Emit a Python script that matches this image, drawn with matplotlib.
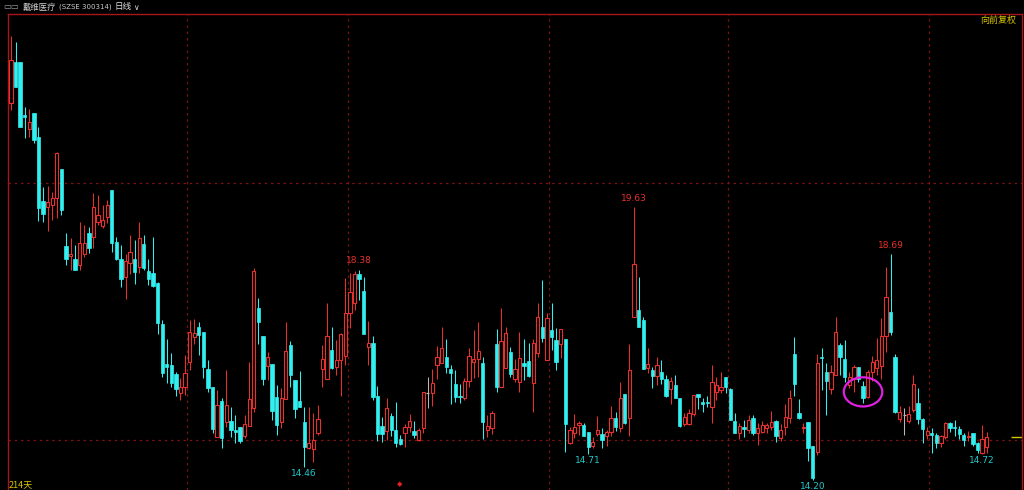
import matplotlib
matplotlib.use("Agg")
import matplotlib.pyplot as plt
from matplotlib.patches import Ellipse
import numpy as np

plt.rcParams["font.family"] = ["Noto Sans CJK SC", "DejaVu Sans"]

# daily candles, 戴维医疗 (SZSE 300314), forward adjusted
opens = [
    21.69, 22.51, 22.51, 21.45, 21.17, 21.49, 21.01, 19.74, 19.62, 19.66,
    19.80, 20.38, 18.85, 18.65, 18.59, 18.47, 18.69, 19.11, 19.03, 19.33,
    19.25, 19.43, 19.96, 18.93, 18.59, 18.23, 18.51, 18.59, 18.43, 18.89,
    18.35, 18.31, 18.11, 17.30, 16.51, 16.49, 16.31, 15.93, 16.05, 16.55,
    17.04, 17.24, 17.14, 16.41, 16.05, 15.05, 15.77, 15.35, 15.37, 15.19,
    15.25, 15.07, 15.27, 15.63, 17.62, 17.06, 16.47, 16.51, 15.85, 15.35,
    15.81, 16.88, 16.19, 15.77, 15.35, 14.83, 14.81, 15.13, 16.41, 16.21,
    16.78, 16.45, 16.58, 16.66, 17.52, 17.72, 18.29, 17.96, 16.84, 16.92,
    15.87, 15.27, 15.17, 15.47, 15.19, 15.01, 15.13, 15.25, 15.17, 14.99,
    15.23, 15.93, 15.93, 16.49, 16.53, 16.64, 16.41, 16.11, 15.87, 15.83,
    16.17, 16.55, 16.60, 16.53, 15.19, 15.23, 16.90, 16.05, 16.43, 16.74,
    16.21, 16.15, 16.53, 16.57, 16.13, 16.72, 17.24, 16.58, 17.18, 16.98,
    16.90, 17.00, 14.93, 15.13, 15.29, 15.29, 15.15, 14.87, 15.11, 15.11,
    15.07, 15.15, 15.43, 15.23, 15.91, 15.43, 17.44, 17.58, 17.38, 16.43,
    16.39, 16.27, 16.35, 16.21, 16.01, 16.09, 15.83, 15.31, 15.31, 15.51,
    15.91, 15.75, 15.75, 15.65, 15.95, 15.99, 16.25, 16.01, 15.37, 15.13,
    15.25, 15.19, 15.43, 15.13, 15.15, 15.23, 15.25, 15.37, 15.03, 15.25,
    15.43, 16.70, 15.53, 15.23, 15.35, 14.87, 14.76, 16.64, 16.35, 16.01,
    16.29, 16.88, 16.60, 16.09, 16.21, 16.45, 16.07, 15.85, 16.35, 16.43,
    16.47, 17.06, 17.54, 16.64, 15.41, 15.49, 15.37, 15.59, 15.73, 15.41,
    15.09, 15.13, 15.09, 14.93, 15.05, 15.33, 15.25, 15.21, 15.09, 15.06,
    15.13, 14.93, 14.74, 14.85,
]
highs = [
    23.02, 22.90, 22.51, 21.61, 21.57, 21.49, 21.21, 20.02, 20.04, 19.92,
    20.72, 20.38, 19.11, 19.01, 18.87, 19.33, 19.27, 19.23, 19.90, 19.86,
    19.66, 19.76, 19.96, 19.03, 18.87, 18.69, 19.07, 18.97, 19.33, 19.07,
    18.59, 19.03, 18.13, 17.38, 17.00, 16.72, 16.35, 16.23, 16.68, 17.38,
    17.40, 17.34, 17.14, 16.58, 16.05, 15.99, 15.83, 16.39, 15.65, 15.49,
    15.25, 15.49, 16.55, 18.41, 17.82, 17.06, 16.74, 16.51, 16.09, 16.03,
    17.34, 16.96, 16.19, 16.37, 15.65, 15.65, 15.53, 15.69, 16.88, 17.72,
    17.24, 16.98, 17.12, 18.21, 18.31, 18.36, 18.38, 18.23, 17.36, 17.06,
    16.07, 15.45, 15.83, 15.53, 15.75, 15.09, 15.31, 15.51, 15.37, 15.23,
    15.95, 16.25, 16.41, 16.86, 17.24, 17.00, 16.49, 16.39, 16.11, 16.23,
    16.82, 17.18, 17.34, 16.64, 15.49, 15.57, 17.20, 17.62, 17.24, 16.84,
    16.60, 17.14, 17.00, 16.92, 17.00, 17.72, 18.17, 17.52, 17.72, 17.22,
    17.20, 17.00, 15.25, 15.51, 15.37, 15.33, 15.15, 15.05, 15.47, 15.23,
    15.19, 15.67, 15.55, 16.15, 15.91, 16.90, 19.63, 18.23, 17.44, 16.82,
    16.45, 16.64, 16.58, 16.29, 16.25, 16.29, 15.83, 15.53, 15.61, 15.89,
    15.91, 15.83, 15.87, 16.49, 16.25, 16.35, 16.25, 16.03, 15.53, 15.33,
    15.39, 15.49, 15.49, 15.33, 15.37, 15.33, 15.57, 15.39, 15.31, 15.71,
    15.99, 17.04, 15.81, 15.33, 15.35, 14.87, 16.70, 16.82, 16.53, 16.49,
    17.44, 16.92, 16.98, 16.35, 16.49, 16.45, 16.17, 16.39, 16.66, 17.02,
    17.42, 18.43, 18.69, 16.70, 15.67, 15.63, 15.67, 16.29, 16.03, 15.43,
    15.25, 15.23, 15.13, 15.09, 15.35, 15.35, 15.39, 15.27, 15.13, 15.17,
    15.13, 14.95, 15.29, 15.15,
]
lows = [
    21.55, 22.00, 21.21, 20.99, 21.01, 20.90, 19.35, 19.33, 19.15, 19.37,
    19.41, 19.47, 18.47, 18.37, 18.37, 18.37, 18.63, 18.71, 18.81, 19.27,
    19.21, 19.31, 18.73, 18.57, 18.04, 17.80, 18.29, 18.09, 18.31, 18.37,
    18.07, 18.04, 17.10, 16.25, 16.13, 16.05, 15.87, 15.79, 15.89, 16.39,
    16.90, 16.68, 16.23, 15.95, 15.13, 15.05, 14.83, 15.25, 15.05, 14.93,
    14.93, 15.03, 15.27, 15.55, 16.90, 16.09, 16.19, 15.39, 15.09, 15.23,
    15.81, 16.05, 15.43, 15.65, 14.46, 14.81, 14.56, 15.09, 16.05, 16.21,
    16.41, 16.29, 15.87, 16.49, 17.22, 17.58, 17.77, 17.10, 16.49, 15.79,
    14.97, 14.95, 14.99, 15.07, 14.85, 14.89, 14.85, 15.15, 15.03, 14.97,
    15.13, 15.63, 15.67, 16.21, 16.53, 16.33, 15.71, 15.75, 15.73, 15.79,
    16.05, 16.23, 16.25, 15.01, 15.05, 15.11, 15.95, 16.05, 16.43, 16.25,
    16.15, 15.95, 16.19, 16.25, 15.55, 16.64, 16.94, 16.58, 16.78, 16.39,
    16.62, 14.76, 14.91, 15.03, 15.09, 15.07, 14.71, 14.83, 15.07, 14.83,
    14.87, 15.07, 15.17, 15.15, 15.31, 15.07, 17.44, 17.24, 16.41, 16.33,
    16.03, 16.09, 16.11, 15.85, 15.71, 15.83, 15.25, 15.27, 15.29, 15.47,
    15.61, 15.55, 15.65, 15.33, 15.79, 15.93, 15.93, 15.39, 15.13, 15.01,
    15.05, 15.13, 15.09, 14.89, 15.13, 15.13, 15.19, 14.95, 14.97, 15.09,
    15.33, 15.87, 15.41, 15.13, 14.58, 14.20, 14.70, 15.99, 15.49, 15.91,
    16.29, 16.29, 16.15, 16.03, 15.95, 16.15, 15.73, 15.83, 16.17, 16.29,
    16.21, 16.74, 17.08, 15.53, 15.35, 15.09, 15.33, 15.55, 15.31, 14.93,
    15.01, 14.74, 14.83, 14.85, 15.01, 15.15, 15.07, 15.01, 14.87, 14.97,
    14.87, 14.74, 14.72, 14.73,
]
closes = [
    22.55, 22.01, 21.21, 21.41, 21.31, 20.96, 19.60, 19.49, 19.72, 19.80,
    20.70, 19.56, 18.59, 18.69, 18.37, 18.91, 18.91, 18.81, 19.62, 19.47,
    19.37, 19.66, 18.91, 18.59, 18.19, 18.55, 18.73, 18.33, 19.01, 18.41,
    18.19, 18.05, 17.32, 16.33, 16.45, 16.13, 16.01, 16.05, 16.33, 17.14,
    17.12, 17.08, 16.45, 16.03, 15.21, 15.69, 15.03, 15.69, 15.19, 15.15,
    14.97, 15.31, 15.81, 18.35, 17.34, 16.21, 16.64, 15.57, 15.29, 15.83,
    16.76, 16.29, 15.61, 15.65, 14.85, 14.93, 14.99, 15.41, 16.60, 17.06,
    16.43, 16.58, 17.10, 17.52, 17.94, 18.29, 18.19, 17.10, 16.92, 15.85,
    15.11, 15.11, 15.63, 15.19, 14.93, 14.91, 15.25, 15.37, 15.09, 15.19,
    15.95, 15.93, 16.13, 16.64, 16.82, 16.45, 16.33, 15.85, 15.85, 16.17,
    16.66, 16.60, 16.76, 15.35, 15.27, 15.53, 16.05, 16.96, 17.12, 16.31,
    16.41, 16.62, 16.47, 16.27, 16.92, 17.44, 17.02, 17.42, 17.04, 16.55,
    17.20, 15.31, 15.19, 15.25, 15.33, 15.07, 14.85, 14.95, 15.19, 14.99,
    15.15, 15.43, 15.25, 15.83, 15.33, 16.39, 18.49, 17.24, 16.41, 16.51,
    16.27, 16.49, 16.21, 15.87, 16.17, 15.83, 15.27, 15.45, 15.53, 15.89,
    15.85, 15.71, 15.73, 16.15, 16.09, 16.05, 16.05, 15.39, 15.13, 15.27,
    15.21, 15.39, 15.13, 15.23, 15.29, 15.29, 15.35, 15.07, 15.19, 15.45,
    15.83, 16.11, 15.43, 15.25, 14.83, 14.24, 16.53, 16.62, 16.17, 16.35,
    17.14, 16.64, 16.25, 16.25, 16.45, 16.21, 15.83, 16.35, 16.55, 16.58,
    17.06, 17.84, 17.14, 15.55, 15.55, 15.49, 15.51, 16.11, 15.41, 15.21,
    15.17, 15.09, 14.93, 15.07, 15.33, 15.23, 15.23, 15.11, 14.99, 15.07,
    14.91, 14.80, 15.01, 15.05,
]

high_marks = [76, 136, 192]          # labelled local highs
low_marks = [64, 126, 175, 212]      # labelled local lows
month_breaks = [38.5, 73.5, 117.5, 156.5, 200.5]
grid_prices = [15.00, 20.10]
circled = 186

UP = "#e8302c"
DOWN = "#33f0f0"
FLAT = "#b8b8b8"
FRAME = "#a8161a"
GRID = "#7a1212"
YELLOW = "#d8c400"

o = np.array(opens)
h = np.array(highs)
l = np.array(lows)
c = np.array(closes)
n = len(c)
x = np.arange(n)

fig = plt.figure(figsize=(10.24, 4.9), dpi=100, facecolor="black")
ax = fig.add_axes([8 / 1024, 0, 1014 / 1024, 476 / 490], facecolor="black")
ax.set_xlim(-0.65, n + 6.7)
ax.set_ylim(14.00, 23.46)

for p in grid_prices:
    ax.axhline(p, color=GRID, lw=0.9, ls=(0, (2, 3)), zorder=0)
for b in month_breaks:
    ax.axvline(b, color=GRID, lw=0.9, ls=(0, (2, 3)), zorder=0)

up = c > o
down = c < o
flat = c == o
colors = np.where(up, UP, np.where(down, DOWN, FLAT))

ax.vlines(x, l, h, colors=colors, lw=0.75, zorder=2)

width = 0.72
body_lo = np.minimum(o, c)
body_h = np.maximum(np.abs(c - o), 0.012)
ax.bar(x[up], body_h[up], width, bottom=body_lo[up], facecolor="black",
       edgecolor=UP, linewidth=0.8, zorder=3)
ax.bar(x[down], body_h[down], width, bottom=body_lo[down], facecolor=DOWN,
       edgecolor=DOWN, linewidth=0.5, zorder=3)
ax.hlines(c[flat], x[flat] - width / 2, x[flat] + width / 2, colors=FLAT,
          lw=0.9, zorder=3)

for i in high_marks:
    ax.annotate(f"{h[i]:.2f}", (i, h[i]), xytext=(0, 3), textcoords="offset points",
                ha="center", va="bottom", color=UP, fontsize=6.5,
                family="DejaVu Sans")
for i in low_marks:
    ax.annotate(f"{l[i]:.2f}", (i, l[i]), xytext=(0, -1.5), textcoords="offset points",
                ha="center", va="top", color="#22c8c8", fontsize=6.5,
                family="DejaVu Sans")

# last price marker at the right edge
ax.hlines(c[-1], n + 4.2, n + 6.7, colors=YELLOW, lw=1.0, zorder=2)

# highlight around one candle
ax.add_patch(Ellipse((circled, (h[circled] + l[circled]) / 2), 8.4, 0.58,
                     fill=False, edgecolor="#e020e0", lw=1.6, zorder=4))

for side in ["top", "left", "right"]:
    ax.spines[side].set_color(FRAME)
    ax.spines[side].set_linewidth(1.0)
ax.spines["bottom"].set_visible(False)
ax.set_xticks([])
ax.set_yticks([])

# header and footer texts
fig.text(3 / 1024, 1 - 7 / 490, "▭▭", color="#a0a0a0", fontsize=6,
         va="center", family="DejaVu Sans")
fig.text(23 / 1024, 1 - 7 / 490, "戴维医疗", color="#d0d0d0",
         fontsize=6, va="center")
fig.text(59 / 1024, 1 - 7 / 490, "(SZSE 300314)", color="#c8c8c8",
         fontsize=5.0, va="center", family="DejaVu Sans")
fig.text(115 / 1024, 1 - 7 / 490, "日线", color="#e0e0e0", fontsize=6.2,
         va="center")
fig.text(133 / 1024, 1 - 7 / 490, "∨", color="#e0e0e0", fontsize=5.5,
         va="center", family="DejaVu Sans")
fig.text(1016 / 1024, 1 - 20 / 490, "向前复权", color=YELLOW, fontsize=6.5,
         ha="right", va="center")
fig.text(9 / 1024, 1 - 485 / 490, "214天", color=YELLOW, fontsize=6.5,
         va="center")
fig.text(400 / 1024, 1 - 484 / 490, "◆", color="#e82020", fontsize=5,
         ha="center", va="center", family="DejaVu Sans")

fig.savefig("out.png", dpi=100, facecolor="black")
